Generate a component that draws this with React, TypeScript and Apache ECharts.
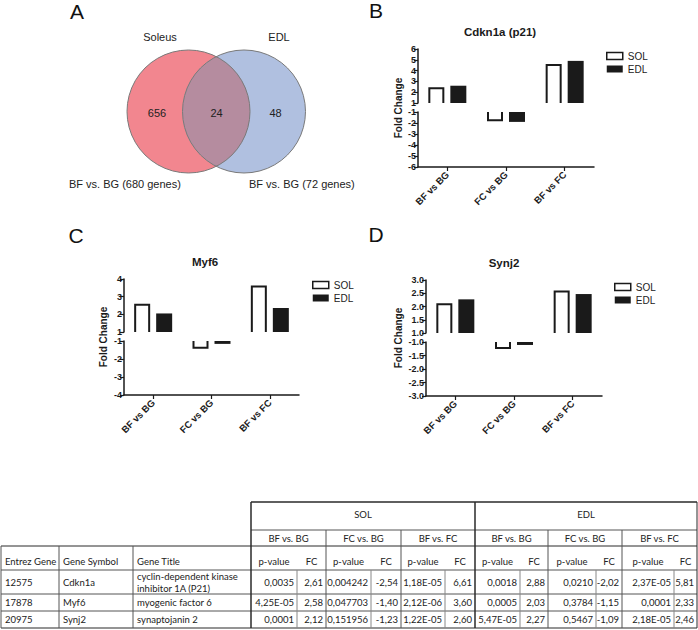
import React, { useEffect, useRef } from "react";
import * as echarts from "echarts";

// ---------------- Data ----------------
const categories = ["BF vs BG", "FC vs BG", "BF vs FC"];
const legendNames = ["SOL", "EDL"];

const cdkn1aSOL = [2.45, -1.85, 4.6];
const cdkn1aEDL = [2.6, -1.9, 4.9];
const myf6SOL = [2.6, -1.43, 3.63];
const myf6EDL = [2.05, -1.16, 2.36];
const synj2SOL = [2.12, -1.26, 2.6];
const synj2EDL = [2.27, -1.11, 2.47];

// [lowerMin, lowerMax, upperMin, upperMax]
const cdkn1aAxis = [-6, -1, 1, 6];
const myf6Axis = [-4, -1, 1, 4];
const synj2Axis = [-3, -1, 1, 3];

const vennSets = ["Soleus", "EDL"];
const vennCounts = [656, 24, 48];
const vennSubtitles = ["BF vs. BG (680 genes)", "BF vs. BG (72 genes)"];

const tissues = ["SOL", "EDL"];
const comparisons = ["BF vs. BG", "FC vs. BG", "BF vs. FC"];
const geneHeaders = ["Entrez Gene", "Gene Symbol", "Gene Title"];
const statHeaders = ["p-value", "FC"];
const entrez = ["12575", "17878", "20975"];
const symbols = ["Cdkn1a", "Myf6", "Synj2"];
const titles = [["cyclin-dependent kinase", "inhibitor 1A (P21)"], ["myogenic factor 6"], ["synaptojanin 2"]];
const solP = [["0,0035", "0,004242", "1,18E-05"], ["4,25E-05", "0,047703", "2,12E-06"], ["0,0001", "0,151956", "1,22E-05"]];
const solFC = [["2,61", "-2,54", "6,61"], ["2,58", "-1,40", "3,60"], ["2,12", "-1,23", "2,60"]];
const edlP = [["0,0018", "0,0210", "2,37E-05"], ["0,0005", "0,3784", "0,0001"], ["5,47E-05", "0,5467", "2,18E-05"]];
const edlFC = [["2,88", "-2,02", "5,81"], ["2,03", "-1,15", "2,33"], ["2,27", "-1,09", "2,46"]];

// ---------------- Styles / layout ----------------
const ARIAL = "'Liberation Sans', Arial, sans-serif";
const CAL = "Lato, 'Liberation Sans', sans-serif";
const INK = "#1a1a1a";
const BAR_W = 16;
const BAR_GAP = 6;

const panels = [
  {
    letter: "B", title: "Cdkn1a (p21)", sol: cdkn1aSOL, edl: cdkn1aEDL, axis: cdkn1aAxis, step: 1, dec: 0,
    L: { left: 418, width: 176, upTop: 49, upH: 54, loTop: 112, loH: 55, titleX: 500, titleY: 32, foldX: 398, legLeft: 606, legTop: 51, letX: 376, letY: 10 },
  },
  {
    letter: "C", title: "Myf6", sol: myf6SOL, edl: myf6EDL, axis: myf6Axis, step: 1, dec: 0,
    L: { left: 124, width: 175, upTop: 279, upH: 53, loTop: 341, loH: 54, titleX: 205, titleY: 262, foldX: 103, legLeft: 312, legTop: 280, letX: 76, letY: 235 },
  },
  {
    letter: "D", title: "Synj2", sol: synj2SOL, edl: synj2EDL, axis: synj2Axis, step: 0.5, dec: 1,
    L: { left: 426, width: 176, upTop: 280, upH: 53, loTop: 342, loH: 54, titleX: 504, titleY: 263, foldX: 398, legLeft: 614, legTop: 282, letX: 376, letY: 234 },
  },
];

function renderBar(slot: number, hollow: boolean, base: number) {
  return (_params: any, api: any) => {
    const cat = api.value(0);
    const v = api.value(1);
    const pv = api.coord([cat, v]);
    const pb = api.coord([cat, base]);
    const x0 = pv[0] - (2 * BAR_W + BAR_GAP) / 2 + slot * (BAR_W + BAR_GAP);
    const x1 = x0 + BAR_W;
    const yv = pv[1];
    const yb = pb[1];
    const rect = { x: x0, y: Math.min(yv, yb), width: BAR_W, height: Math.abs(yb - yv) };
    if (!hollow) {
      return { type: "rect", shape: rect, style: { fill: INK } };
    }
    const lw = 2;
    const dir = yv < yb ? 1 : -1;
    const ye = yv + (dir * lw) / 2;
    return {
      type: "group",
      children: [
        { type: "rect", shape: rect, style: { fill: "#fff" } },
        {
          type: "polyline",
          shape: { points: [[x0 + lw / 2, yb], [x0 + lw / 2, ye], [x1 - lw / 2, ye], [x1 - lw / 2, yb]] },
          style: { stroke: INK, lineWidth: lw, fill: null },
        },
      ],
    };
  };
}

function txt(x: number, y: number, text: string, o: any = {}) {
  return {
    type: "text",
    x,
    y,
    rotation: o.rotation || 0,
    style: {
      text,
      fill: o.fill || "#222",
      fontSize: o.size || 11,
      fontFamily: o.family || ARIAL,
      fontWeight: o.weight || "normal",
      align: o.align || "center",
      verticalAlign: "middle",
    },
  };
}

function line(x1: number, y1: number, x2: number, y2: number, w = 1, c = "#555") {
  return { type: "line", shape: { x1, y1, x2, y2 }, style: { stroke: c, lineWidth: w } };
}

function buildOption() {
  const grid: any[] = [];
  const xAxis: any[] = [];
  const yAxis: any[] = [];
  const series: any[] = [];
  const legend: any[] = [];
  const graphic: any[] = [];

  const axisLine = { show: true, onZero: false, lineStyle: { color: INK, width: 1.5 } };
  const axisTick = { show: true, length: 4, lineStyle: { color: INK, width: 1.2 } };

  panels.forEach((p, k) => {
    const L = p.L;
    const gu = 2 * k;
    const gl = 2 * k + 1;
    grid.push({ left: L.left, top: L.upTop, width: L.width, height: L.upH, containLabel: false, outerBoundsMode: "none" });
    grid.push({ left: L.left, top: L.loTop, width: L.width, height: L.loH, containLabel: false, outerBoundsMode: "none" });
    xAxis.push({ gridIndex: gu, type: "category", data: categories, show: false });
    xAxis.push({
      gridIndex: gl, type: "category", data: categories, position: "bottom",
      axisLine, axisTick: { ...axisTick, alignWithLabel: true },
      axisLabel: { rotate: 45, interval: 0, margin: 6, fontSize: 9.5, fontWeight: "bold", color: INK, fontFamily: ARIAL },
    });
    const yLabel = {
      fontSize: 9, fontWeight: "bold", color: INK, fontFamily: ARIAL, margin: 2,
      showMinLabel: true, showMaxLabel: true,
      formatter: (v: number) => (p.dec ? v.toFixed(1) : String(v)),
    };
    yAxis.push({ gridIndex: gu, type: "value", min: p.axis[2], max: p.axis[3], interval: p.step, axisLine, axisTick, axisLabel: yLabel, splitLine: { show: false } });
    yAxis.push({ gridIndex: gl, type: "value", min: p.axis[0], max: p.axis[1], interval: p.step, axisLine, axisTick, axisLabel: yLabel, splitLine: { show: false } });

    const vals = [p.sol, p.edl];
    vals.forEach((arr, s) => {
      const pos = arr.map((v, i) => [i, v]).filter((d) => d[1] > 0);
      const neg = arr.map((v, i) => [i, v]).filter((d) => d[1] < 0);
      const style = s === 0 ? { color: "#fff", borderColor: INK, borderWidth: 1.5 } : { color: INK };
      series.push({ type: "custom", name: legendNames[s], xAxisIndex: gu, yAxisIndex: gu, data: pos, encode: { x: 0, y: 1 }, itemStyle: style, renderItem: renderBar(s, s === 0, 1) });
      series.push({ type: "custom", name: legendNames[s], xAxisIndex: gl, yAxisIndex: gl, data: neg, encode: { x: 0, y: 1 }, itemStyle: style, renderItem: renderBar(s, s === 0, -1) });
    });

    legend.push({
      orient: "vertical", left: L.legLeft, top: L.legTop, padding: 0, itemWidth: 16, itemHeight: 7, itemGap: 3,
      selectedMode: false,
      textStyle: { fontSize: 10, color: "#222", fontFamily: ARIAL },
      data: [
        { name: legendNames[0], icon: "rect", itemStyle: { color: "#fff", borderColor: INK, borderWidth: 1.5 } },
        { name: legendNames[1], icon: "rect", itemStyle: { color: INK } },
      ],
    });

    graphic.push(txt(L.titleX, L.titleY, p.title, { size: 11.5, weight: "bold", fill: INK }));
    graphic.push(txt(L.foldX, (L.upTop + L.loTop + L.loH) / 2, "Fold Change", { size: 10, weight: "bold", fill: INK, rotation: Math.PI / 2 }));
    graphic.push(txt(L.letX, L.letY, p.letter, { size: 21, fill: "#111" }));
  });

  // ---- Venn (panel A) ----
  const r = 61.5;
  const cy = 111.5;
  const cxL = 188.5;
  const cxR = 244;
  const a = (cxR - cxL) / 2;
  const th = Math.acos(a / r);
  const lens: number[][] = [];
  const N = 40;
  for (let i = 0; i <= N; i++) {
    const t = -th + (2 * th * i) / N;
    lens.push([cxL + r * Math.cos(t), cy + r * Math.sin(t)]);
  }
  for (let i = 0; i <= N; i++) {
    const t = Math.PI - th + (2 * th * i) / N;
    lens.push([cxR + r * Math.cos(t), cy + r * Math.sin(t)]);
  }
  graphic.push({ type: "circle", shape: { cx: cxL, cy, r }, style: { fill: "#f2868f" } });
  graphic.push({ type: "circle", shape: { cx: cxR, cy, r }, style: { fill: "#b0c0e0" } });
  graphic.push({ type: "polygon", shape: { points: lens }, style: { fill: "#b58c9f" } });
  graphic.push({ type: "circle", shape: { cx: cxL, cy, r }, style: { fill: null, stroke: "#7a7a7a", lineWidth: 1 } });
  graphic.push({ type: "circle", shape: { cx: cxR, cy, r }, style: { fill: null, stroke: "#7a7a7a", lineWidth: 1 } });
  graphic.push(txt(160, 37, vennSets[0]));
  graphic.push(txt(279, 37, vennSets[1]));
  graphic.push(txt(157, 113, String(vennCounts[0])));
  graphic.push(txt(216.5, 113, String(vennCounts[1])));
  graphic.push(txt(275.5, 113, String(vennCounts[2])));
  graphic.push(txt(69, 184, vennSubtitles[0], { align: "left" }));
  graphic.push(txt(249, 184, vennSubtitles[1], { align: "left" }));
  graphic.push(txt(77, 11, "A", { size: 21, fill: "#111" }));

  // ---- Table ----
  const cols = [1, 59, 133, 251, 297, 326, 371, 401, 445, 475, 520, 548, 596, 622, 674, 697];
  const rows = [502, 530, 546, 570, 594, 611, 628];
  const dark = "#2a2a2a";
  const mid = "#555";
  const T = { size: 9.5, family: CAL, fill: "#222" };
  graphic.push(line(251, rows[0], 697, rows[0], 1.5, dark));
  graphic.push(line(251, rows[1], 697, rows[1], 1, mid));
  graphic.push(line(1, rows[2], 697, rows[2], 1, dark));
  for (let i = 3; i < 6; i++) graphic.push(line(1, rows[i], 697, rows[i], 1, mid));
  graphic.push(line(1, rows[6], 697, rows[6], 1.2, dark));
  [1, 59, 133].forEach((x) => graphic.push(line(x, rows[2], x, rows[6], 1, mid)));
  [251, 475].forEach((x) => graphic.push(line(x, rows[0], x, rows[6], 1.5, dark)));
  graphic.push(line(697, rows[0], 697, rows[6], 1, dark));
  [5, 7, 11, 13].forEach((ci) => graphic.push(line(cols[ci], rows[1], cols[ci], rows[6], 1, mid)));
  [4, 6, 8, 10, 12, 14].forEach((ci) => graphic.push(line(cols[ci], rows[3], cols[ci], rows[6], 1, "#888")));

  const tissueCenters = [(cols[3] + cols[9]) / 2, (cols[9] + cols[15]) / 2];
  tissues.forEach((t, i) => graphic.push(txt(tissueCenters[i], 514, t, T)));
  for (let g = 0; g < 6; g++) {
    const c0 = cols[3 + 2 * g];
    const c1 = cols[4 + 2 * g];
    const c2 = cols[5 + 2 * g];
    graphic.push(txt((c0 + c2) / 2, 538, comparisons[g % 3], T));
    graphic.push(txt((c0 + c1) / 2, 561, statHeaders[0], T));
    graphic.push(txt((c1 + c2) / 2, 561, statHeaders[1], T));
  }
  geneHeaders.forEach((h, i) => graphic.push(txt(cols[i] + 4, 561, h, { ...T, align: "left" })));

  const rowY = [582, 602.5, 619.5];
  for (let r2 = 0; r2 < 3; r2++) {
    const y = rowY[r2];
    graphic.push(txt(cols[0] + 4, y, entrez[r2], { ...T, align: "left" }));
    graphic.push(txt(cols[1] + 4, y, symbols[r2], { ...T, align: "left" }));
    const tl = titles[r2];
    if (tl.length === 1) graphic.push(txt(cols[2] + 4, y, tl[0], { ...T, align: "left" }));
    else tl.forEach((s, j) => graphic.push(txt(cols[2] + 4, y - 6 + j * 12, s, { ...T, align: "left" })));
    for (let g = 0; g < 6; g++) {
      const pv = g < 3 ? solP[r2][g] : edlP[r2][g - 3];
      const fc = g < 3 ? solFC[r2][g] : edlFC[r2][g - 3];
      graphic.push(txt(cols[4 + 2 * g] - 3, y, pv, { ...T, align: "right" }));
      graphic.push(txt(cols[5 + 2 * g] - 3, y, fc, { ...T, align: "right" }));
    }
  }

  return {
    animation: false,
    backgroundColor: "#fff",
    grid,
    xAxis,
    yAxis,
    series,
    legend,
    graphic: { elements: graphic },
  };
}

export default function App() {
  const ref = useRef<HTMLDivElement>(null);
  useEffect(() => {
    if (!ref.current) return;
    const chart = echarts.init(ref.current, null, { renderer: "svg" });
    chart.setOption(buildOption() as any);
    return () => chart.dispose();
  }, []);
  return (
    <div
      ref={ref}
      style={{ position: "fixed", left: 0, top: 0, width: 698, height: 630, background: "#fff" }}
    />
  );
}
